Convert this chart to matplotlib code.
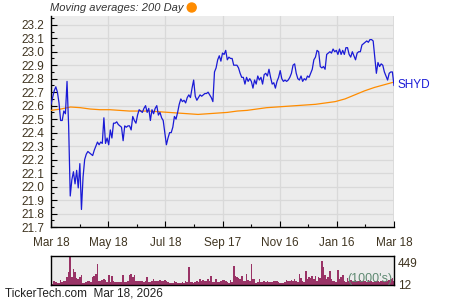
import numpy as np
import matplotlib
matplotlib.use("Agg")
import matplotlib.pyplot as plt
from matplotlib.ticker import MultipleLocator, FixedLocator

plt.rcParams['font.family'] = ['Liberation Sans', 'DejaVu Sans']

# ---- data ----
tick_labels = ["Mar 18", "May 18", "Jul 18", "Sep 17", "Nov 16", "Jan 16", "Mar 18"]

price_a = [22.61, 22.66, 22.71, 22.74, 22.70, 22.62, 22.49, 22.49, 22.56, 22.54,
           22.78, 22.45, 21.93, 22.05, 22.11, 22.02, 22.12, 21.99, 22.17, 21.83,
           22.07, 22.20, 22.24, 22.26, 22.25, 22.24, 22.23, 22.27, 22.30, 22.33,
           22.31, 22.33, 22.32, 22.51, 22.32, 22.36, 22.31, 22.42, 22.36, 22.47,
           22.47, 22.48, 22.46, 22.45, 22.44, 22.34, 22.45, 22.44, 22.45, 22.45,
           22.42]
price_b = [22.52, 22.49, 22.47, 22.53, 22.57, 22.56, 22.55, 22.58, 22.60, 22.55,
           22.58, 22.49, 22.57, 22.54, 22.58, 22.60, 22.53, 22.55, 22.51, 22.49,
           22.40, 22.31, 22.36, 22.40, 22.40, 22.44, 22.52, 22.50, 22.55, 22.61,
           22.65, 22.63, 22.64, 22.62, 22.66, 22.68, 22.66, 22.73, 22.79, 22.67,
           22.64, 22.66, 22.68, 22.67, 22.68, 22.69, 22.69, 22.70, 22.68, 22.66,
           22.63]
price_c = [22.85, 22.88, 22.94, 22.97, 22.93, 22.99, 22.98, 23.01, 22.94, 22.96,
           22.95, 22.95, 22.90, 22.90, 22.90, 22.88, 22.84, 22.81, 22.81, 22.76,
           22.81, 22.78, 22.80, 22.78, 22.73, 22.79, 22.76, 22.82, 22.79, 22.81,
           22.76, 22.83, 22.84, 22.82, 22.87, 22.81, 22.76, 22.77, 22.73, 22.78,
           22.81, 22.86, 22.80, 22.78, 22.79, 22.78, 22.79, 22.81, 22.84, 22.90,
           22.91, 22.84, 22.80]
price_d = [22.79, 22.82, 22.78, 22.80, 22.79, 22.82, 22.81, 22.84, 22.87, 22.94,
           22.96, 23.01, 23.00, 22.89, 22.88, 22.89, 22.87, 22.98, 22.99, 23.00,
           22.99, 23.02, 23.00, 23.01, 22.98, 23.02, 22.98, 23.01, 22.98, 23.03,
           23.03, 22.98, 22.96, 23.00, 22.97, 22.94, 22.99, 23.00, 23.00, 23.05,
           23.06, 23.07, 23.08, 23.07, 23.09, 23.09, 23.08, 22.96, 22.84, 22.92,
           22.89, 22.91, 22.90, 22.85, 22.82, 22.79, 22.84, 22.85, 22.85, 22.75]
price = price_a + price_b + price_c + price_d

ma200 = [22.565, 22.575, 22.59, 22.585, 22.575, 22.57, 22.57, 22.565, 22.56, 22.56,
         22.56, 22.555, 22.55, 22.545, 22.54, 22.535, 22.54, 22.545, 22.55, 22.56,
         22.565, 22.575, 22.585, 22.59, 22.595, 22.60, 22.605, 22.61, 22.62, 22.63,
         22.65, 22.68, 22.71, 22.735, 22.755, 22.775]

volume = [34, 27, 75, 68, 41, 34, 100, 54, 75, 88, 156, 258, 590, 156, 325, 258, 136, 122, 170, 204,
          41, 41, 54, 75, 88, 54, 170, 190, 224, 427, 88, 75, 100, 122, 100, 54, 204, 54, 190, 75,
          54, 54, 68, 54, 68, 204, 54, 68, 88, 210, 224, 170, 204, 88, 75, 75, 88, 75, 68, 88,
          156, 68, 54, 75, 122, 75, 88, 75, 108, 88, 75, 100,
          88, 54, 41, 48, 41, 75, 54, 41, 41, 48, 54, 48, 75, 68, 373, 68, 54, 41, 54, 88,
          54, 122, 75, 100, 88, 75, 122, 75, 183, 68, 54, 122, 68, 54, 75, 108, 100, 88, 54, 41,
          100, 68, 393, 190, 170, 136, 122, 176, 88, 75, 224, 100, 88, 427, 122, 122, 41, 54, 122, 54,
          54, 75, 54, 75, 68, 54, 54, 88, 75, 88, 68,
          41, 48, 41, 54, 100, 75, 88, 100, 75, 122, 75, 68, 224, 136, 75, 54, 292, 122, 156, 136,
          190, 122, 176, 88, 170, 136, 496, 360, 204, 122, 156, 279, 122, 88, 75, 68, 306, 122, 156, 210,
          75, 54, 136, 88, 100, 75, 88, 100, 75, 88, 100, 88, 75, 88, 68, 100, 75, 88, 68, 75,
          88, 75, 68, 88, 75, 68, 88, 75, 100, 122, 136, 88]

vol_labels = ["449", "12"]

# ---- figure ----
fig = plt.figure(figsize=(4.5, 3.0), dpi=100)
bg = '#ececec'
gridc = '#d9d9d9'
txtc = '#3f3420'

ax = fig.add_axes([51/450, 1-227/300, 343/450, 211/300])
ax.set_facecolor(bg)
xp = np.linspace(0, 1, len(price))
xm = np.linspace(0, 1, len(ma200))
ax.plot(xm, ma200, color='#ff8c00', lw=0.9, zorder=3)
ax.plot(xp, price, color='#1a1ad6', lw=0.9, zorder=4)
ax.set_xlim(0, 1)
ax.set_ylim(21.7, 23.265)
ax.xaxis.set_major_locator(FixedLocator(np.linspace(0, 1, 7)))
ax.xaxis.set_minor_locator(FixedLocator(np.linspace(1/12, 11/12, 6)))
ax.set_xticklabels(tick_labels)
ax.yaxis.set_major_locator(MultipleLocator(0.1))
ax.yaxis.set_minor_locator(MultipleLocator(0.05))
ax.yaxis.set_major_formatter(matplotlib.ticker.FormatStrFormatter('%.1f'))
ax.grid(True, which='major', color=gridc, lw=0.9)
ax.set_axisbelow(True)
for s in ['top', 'right']:
    ax.spines[s].set_visible(False)
for s in ['left', 'bottom']:
    ax.spines[s].set_color('black')
    ax.spines[s].set_linewidth(1.0)
ax.tick_params(axis='both', which='major', direction='in', length=4, width=0.8,
               labelsize=8.5, labelcolor=txtc)
ax.tick_params(axis='both', which='minor', direction='in', length=2.5, width=0.8)
ax.tick_params(axis='y', pad=5)
ax.tick_params(axis='x', pad=7)
ax.axvline(1, color=gridc, lw=1.2, zorder=1)

ax.text(1.01, 22.755, 'SHYD', transform=ax.get_yaxis_transform(), color='#1a1ad6',
        fontsize=8.5, va='center', ha='left')

fig.text(50/450, 1-8/300, 'Moving averages: 200 Day', fontsize=8, style='italic',
         color='#333333', va='center', ha='left')
fig.patches.append(matplotlib.patches.Ellipse((191.7/450, 1-7.5/300), 9/450, 9/300,
                                              transform=fig.transFigure, color='#ff8c00'))

# volume
axv = fig.add_axes([51/450, 1-285/300, 343/450, 29/300])
axv.set_facecolor(bg)
xv = np.linspace(0, 1, len(volume))
w = 1.0 / (len(volume) - 1)
axv.bar(xv, volume, width=w, color='#993366', align='center')
axv.set_xlim(0, 1)
axv.set_ylim(0, 590)
axv.set_xticks([])
axv.yaxis.tick_right()
axv.set_yticks([449, 12])
axv.set_yticklabels(vol_labels)
axv.tick_params(axis='y', length=0, labelsize=8.5, labelcolor=txtc, pad=3)
for s in axv.spines.values():
    s.set_color('black')
    s.set_linewidth(1.0)
axv.text(0.995, 0.2, "(1000's)", transform=axv.transAxes, ha='right', va='center',
         fontsize=9, color='#5f8a72')

fig.text(5/450, 1-294/300, 'TickerTech.com  Mar 18, 2026', fontsize=8.5,
         color='#222222', va='center', ha='left')

fig.savefig('out.png', dpi=100)
